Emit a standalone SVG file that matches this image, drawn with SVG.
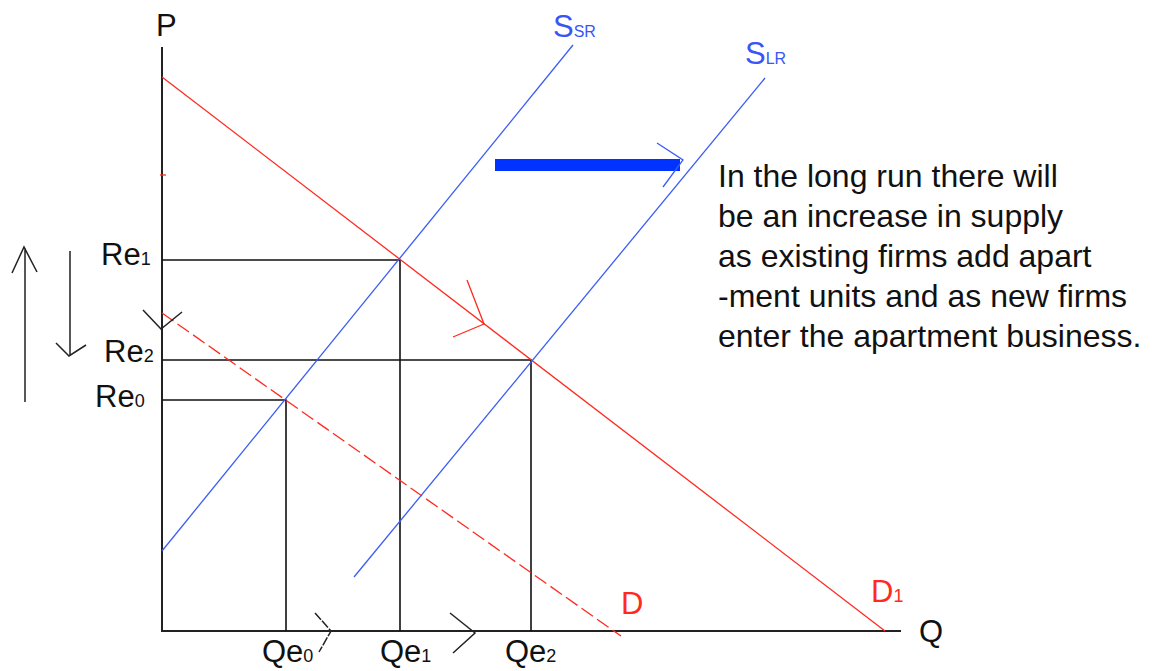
<svg xmlns="http://www.w3.org/2000/svg" width="1154" height="671" viewBox="0 0 1154 671">
<style>
text{font-family:"Liberation Sans",Arial,sans-serif;}
.lbl{font-size:31px;fill:#111;}
.sub{font-size:18px;}
.note{font-size:32px;fill:#111;}
.red{fill:#ff2a1f;}
.blue{fill:#3a55f5;}
.ax{stroke:#222;stroke-width:2;fill:none;}
.guide{stroke:#111;stroke-width:1.6;fill:none;}
.rl{stroke:#ff2a1f;stroke-width:1.3;fill:none;}
.bl{stroke:#3a5cf5;stroke-width:1.3;fill:none;}
.hand{stroke:#222;stroke-width:1.5;fill:none;}
</style>
<rect width="1154" height="671" fill="#fff"/>
<g id="connectors">
<path class="ax" d="M162 47V631H901"/>
<path class="guide" d="M162 260H400V631M162 360H531V631M162 400H286V631"/>
<path class="rl" d="M162 77L885 631"/>
<path class="rl" d="M162 313L621 636" stroke-dasharray="14 5"/>
<path class="rl" d="M160 175H166"/>
<path class="bl" d="M162 551L573 45"/>
<path class="bl" d="M354 577L765 78"/>
<path class="rl" d="M467 280L484 324L453 337"/>
<rect x="495" y="159" width="185" height="12" fill="#0033ff"/>
<path class="bl" d="M657 143L683 160L663 187" stroke-width="1.6"/>
<path class="hand" d="M25 402V248M12 273L24 247L37 272"/>
<path class="hand" d="M70 251V356M56 343L69 356L86 345"/>
<path class="hand" d="M143 310L161 329L182 312"/>
<path class="hand" d="M315 613L331 631L319 652" stroke-dasharray="9 1.5"/>
<path class="hand" d="M450 613L475 633L453 653"/>
</g>
<g id="axis-labels">
<text class="lbl" x="156" y="36">P</text>
<text class="lbl" x="919" y="642">Q</text>
</g>
<g id="price-labels">
<text class="lbl" x="101" y="265">Re<tspan class="sub">1</tspan></text>
<text class="lbl" x="104" y="362">Re<tspan class="sub">2</tspan></text>
<text class="lbl" x="95" y="407">Re<tspan class="sub">0</tspan></text>
</g>
<g id="quantity-labels">
<text class="lbl" x="262" y="662">Qe<tspan class="sub">0</tspan></text>
<text class="lbl" x="380" y="662">Qe<tspan class="sub">1</tspan></text>
<text class="lbl" x="505" y="662">Qe<tspan class="sub">2</tspan></text>
</g>
<g id="curve-labels">
<text class="lbl blue" x="553" y="37">S<tspan font-size="16px">SR</tspan></text>
<text class="lbl blue" x="745" y="64">S<tspan font-size="16px">LR</tspan></text>
<text class="lbl red" x="621" y="614">D</text>
<text class="lbl red" x="871" y="602">D<tspan class="sub">1</tspan></text>
</g>
<g id="note">
<text class="note" x="718" y="187">In the long run there will</text>
<text class="note" x="718" y="227">be an increase in supply</text>
<text class="note" x="718" y="267">as existing firms add apart</text>
<text class="note" x="718" y="307">-ment units and as new firms</text>
<text class="note" x="718" y="347">enter the apartment business.</text>
</g>
</svg>
